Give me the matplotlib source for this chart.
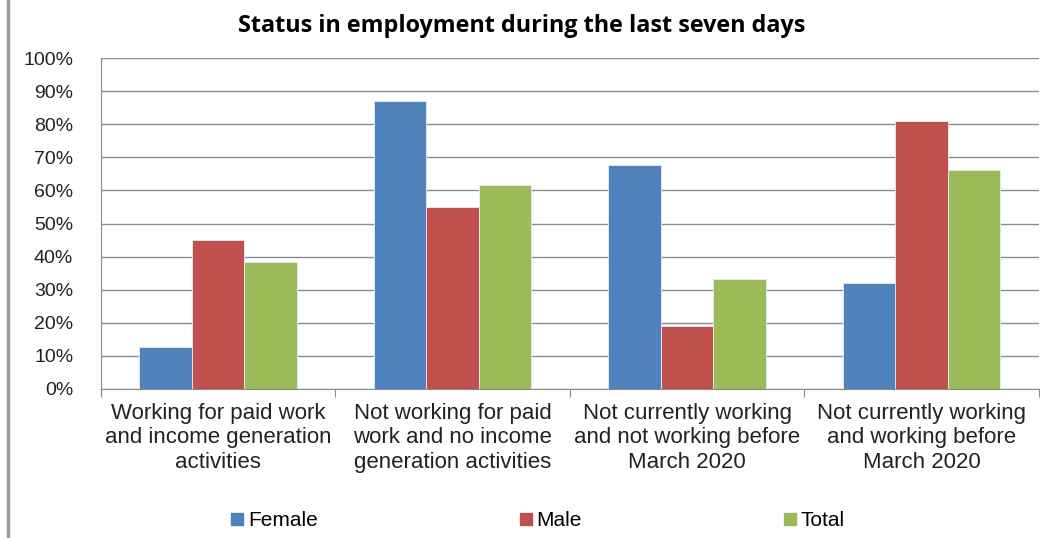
import numpy as np
import matplotlib
matplotlib.use("Agg")
from matplotlib import pyplot as plt
from matplotlib.ticker import PercentFormatter
from matplotlib.lines import Line2D

categories = [
    "Working for paid work\nand income generation\nactivities",
    "Not working for paid\nwork and no income\ngeneration activities",
    "Not currently working\nand not working before\nMarch 2020",
    "Not currently working\nand working before\nMarch 2020",
]
series_names = ["Female", "Male", "Total"]
female = [12.8, 86.9, 67.7, 32.1]
male = [45.1, 54.9, 18.9, 81.0]
total = [38.4, 61.6, 33.2, 66.3]
colors = ["#4F81BD", "#C0504D", "#9BBB59"]

plt.rcParams['font.family'] = ['Liberation Sans Narrow', 'Liberation Sans', 'DejaVu Sans']

fig = plt.figure(figsize=(10.61, 5.38), dpi=100)
ax = fig.add_axes([0.0952, 0.277, 0.8838, 0.615])

x = np.arange(len(categories))
w = 0.224
for i, (vals, name) in enumerate(zip([female, male, total], series_names)):
    ax.bar(x + (i - 1) * w, vals, w, color=colors[i], label=name,
           edgecolor="#e6ecf4", linewidth=0.6, zorder=3)

ax.set_xlim(-0.5, len(categories) - 0.5)
ax.set_ylim(0, 100)
ax.set_yticks(np.arange(0, 101, 10))
ax.yaxis.set_major_formatter(PercentFormatter(decimals=0))
ax.grid(axis="y", color="#8c8c8c", linewidth=1.0, zorder=0)
ax.set_axisbelow(True)

for s in ["top", "right"]:
    ax.spines[s].set_visible(False)
ax.spines["left"].set_color("#8c8c8c")
ax.spines["bottom"].set_color("#8c8c8c")

ax.tick_params(axis="y", length=0, pad=20, labelsize=14, labelcolor="#222222")
ax.set_xticks(np.arange(-0.5, len(categories)), minor=False)
ax.set_xticklabels([])
ax.tick_params(axis="x", which="major", length=6, color="#8c8c8c")
ax.set_xticks(x, minor=True)
ax.set_xticklabels(categories, minor=True, fontsize=16, color="#222222",
                   linespacing=1.22)
ax.tick_params(axis="x", which="minor", length=0, pad=10)

fig.text(0.492, 0.951, "Status in employment during the last seven days",
         ha="center", va="center", fontsize=16.8, fontweight="bold",
         family=["Open Sans", "DejaVu Sans"])

handles = [Line2D([], [], marker="s", linestyle="none", markersize=8.5,
                  markerfacecolor=c, markeredgecolor=c) for c in colors]
fig.legend(handles, series_names, loc="center", bbox_to_anchor=(0.506, 0.032),
           ncol=3, frameon=False, fontsize=15, columnspacing=9.6,
           handletextpad=0.1, handlelength=0.8)

fig.add_artist(Line2D([0.0075, 0.0075], [0, 1], color="#9a9a9a", linewidth=2.5))

fig.savefig("out.png", dpi=100)
